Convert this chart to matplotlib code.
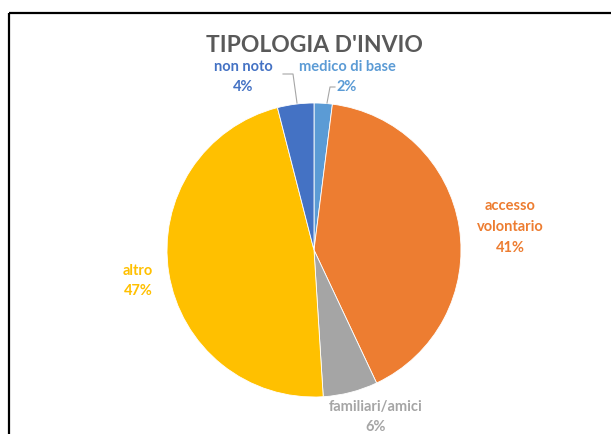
import matplotlib
matplotlib.use("Agg")
import matplotlib.pyplot as plt

plt.rcParams['font.family'] = ['Lato', 'DejaVu Sans']

# data
categories = ['medico di base', 'accesso volontario', 'familiari/amici', 'altro', 'non noto']
values = [2, 41, 6, 47, 4]
colors = ['#5B9BD5', '#ED7D31', '#A5A5A5', '#FFC000', '#4472C4']
label_text = ['medico di base\n2%', 'accesso\nvolontario\n41%', 'familiari/amici\n6%',
              'altro\n47%', 'non noto\n4%']

W, H = 611, 435
fig = plt.figure(figsize=(W / 100, H / 100), dpi=100)
ax = fig.add_axes([0, 0, 1, 1])

cx, cy, r = 314, H - 251, 147
ax.pie(values, colors=colors, startangle=90, counterclock=False,
       center=(cx, cy), radius=r, frame=True,
       wedgeprops=dict(edgecolor='white', linewidth=0.6))
ax.set_xlim(0, W)
ax.set_ylim(0, H)
ax.set_aspect('equal')
ax.axis('off')

# label positions (pixel coords, from top)
label_pos = [(347, 77), (510, 227), (376, 417), (138, 281), (243, 77)]
for txt, (x, y), c in zip(label_text, label_pos, colors):
    ax.text(x, H - y, txt, ha='center', va='center', color=c,
            fontsize=10.5, fontweight='bold', linespacing=1.6)

# leader lines
ax.plot([283, 293, 297], [H - 75, H - 75, H - 104], color='#A6A6A6', lw=0.8)
ax.plot([335, 330, 327], [H - 88, H - 88, H - 104], color='#A6A6A6', lw=0.8)

ax.text(314, H - 45, "TIPOLOGIA D'INVIO", ha='center', va='center',
        color='#595959', fontsize=16.5, fontweight='bold')

# chart border (top and left visible)
ax.plot([9, W], [H - 14, H - 14], color='black', lw=1.6, solid_capstyle='butt')
ax.plot([9, 9], [H - 14, 0], color='black', lw=1.6, solid_capstyle='butt')

fig.savefig('out.png', dpi=100, facecolor='white')
